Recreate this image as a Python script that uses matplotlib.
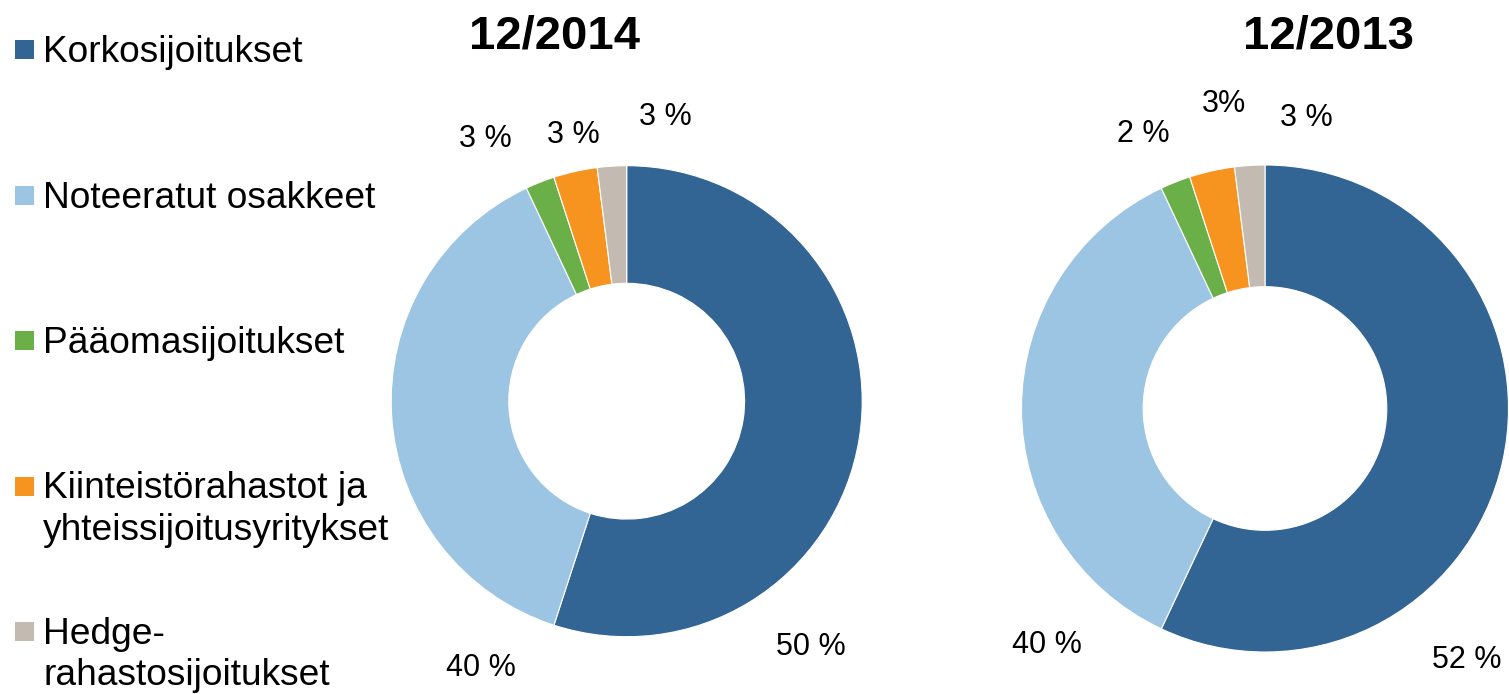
import matplotlib
matplotlib.use('Agg')
import matplotlib.pyplot as plt
from matplotlib.patches import Rectangle

plt.rcParams['font.family'] = ['Liberation Sans', 'DejaVu Sans']

# data
categories = ['Korkosijoitukset', 'Noteeratut osakkeet', 'Pääomasijoitukset',
              'Kiinteistörahastot ja\nyhteissijoitusyritykset', 'Hedge-\nrahastosijoitukset']
colors = ['#336594', '#9CC5E4', '#6AAF47', '#F7941F', '#C3BAB1']
values_2014 = [55.0, 38.0, 2.0, 3.0, 2.0]
values_2013 = [57.0, 36.0, 2.0, 3.0, 2.0]
labels_2014 = ['50 %', '40 %', '3 %', '3 %', '3 %']
labels_2013 = ['52 %', '40 %', '2 %', '3%', '3 %']
titles = ['12/2014', '12/2013']

# layout, in pixels from the top-left of the picture
W, H = 1509, 694
pies = [
    # center x, center y, outer radius, ring width, title x
    dict(cx=626.7, cy=401.2, r=235.5, w=117.6, tx=554),
    dict(cx=1265.0, cy=408.5, r=243.5, w=121.7, tx=1329),
]
# label text centre x / baseline y, in slice order
label_pos_2014 = [(811, 655), (481, 676), (485.5, 147), (573, 143), (665, 125)]
label_pos_2013 = [(1467, 668), (1047, 653), (1143.5, 142), (1224, 112), (1306, 126)]


def py(y):
    return H - y


fig = plt.figure(figsize=(W / 100, H / 100), dpi=100)
ax = fig.add_axes([0, 0, 1, 1])

for values, labels, pos, p, title in zip([values_2014, values_2013], [labels_2014, labels_2013],
                                         [label_pos_2014, label_pos_2013], pies, titles):
    ax.pie(values, colors=colors, startangle=90, counterclock=False,
           center=(p['cx'], py(p['cy'])), radius=p['r'], frame=True,
           wedgeprops=dict(width=p['w'], edgecolor='white', linewidth=0.8))
    for lab, (x, y) in zip(labels, pos):
        ax.text(x, py(y), lab, ha='center', va='baseline', fontsize=22, color='black')
    ax.text(p['tx'], py(48), title, ha='center', va='baseline', fontsize=34,
            fontweight='bold', color='black')

ax.set_xlim(0, W)
ax.set_ylim(0, H)
ax.set_aspect('equal')
ax.axis('off')

# legend drawn by hand: square + text, entries 145.5 px apart
for i, (cat, col) in enumerate(zip(categories, colors)):
    base = 62 + i * 145.5
    ax.add_patch(Rectangle((15, py(base - 3)), 19, 19, facecolor=col, edgecolor='none'))
    for j, line in enumerate(cat.split('\n')):
        ax.text(43, py(base + j * 41), line, ha='left', va='baseline', fontsize=26.7,
                color='black')

fig.savefig('out.png', dpi=100)
